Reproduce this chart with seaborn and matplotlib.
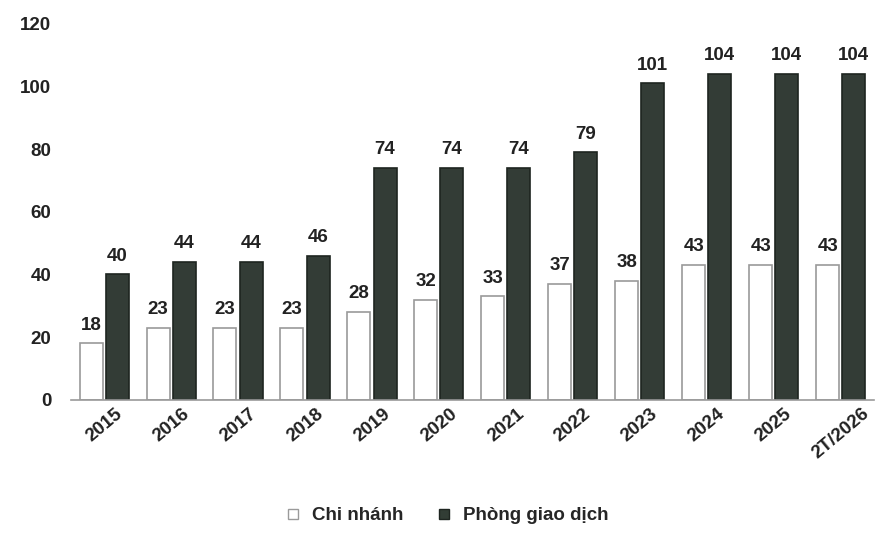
import pandas as pd
import matplotlib.pyplot as plt
import seaborn as sns
from matplotlib.lines import Line2D

# Data
years = ['2015', '2016', '2017', '2018', '2019', '2020', '2021', '2022',
         '2023', '2024', '2025', '2T/2026']
chi_nhanh = [18, 23, 23, 23, 28, 32, 33, 37, 38, 43, 43, 43]
phong_gd = [40, 44, 44, 46, 74, 74, 74, 79, 101, 104, 104, 104]
series_names = ['Chi nhánh', 'Phòng giao dịch']

df = pd.DataFrame({
    'Năm': years * 2,
    'Số lượng': chi_nhanh + phong_gd,
    'Loại': [series_names[0]] * len(years) + [series_names[1]] * len(years),
})

sns.set_style('white')
plt.rcParams['font.family'] = ['Liberation Sans', 'DejaVu Sans']
plt.rcParams['font.weight'] = 'bold'

fill_colors = {series_names[0]: '#ffffff', series_names[1]: '#323d35'}
edge_colors = {series_names[0]: '#9a9a9a', series_names[1]: '#1e2520'}

fig = plt.figure(figsize=(8.83, 5.33), dpi=100)
ax = fig.add_axes([0.08, 0.25, 0.91, 0.705])

sns.barplot(data=df, x='Năm', y='Số lượng', hue='Loại', palette=fill_colors,
            order=years, hue_order=series_names, width=0.78, gap=0.12,
            ax=ax, legend=False)

# Outline the bars and add value labels
for container, name in zip(ax.containers, series_names):
    for bar in container:
        bar.set_edgecolor(edge_colors[name])
        bar.set_linewidth(1.2)
    ax.bar_label(container, fmt='%d', padding=7, fontsize=13.5,
                 fontweight='bold', color='#222222')

ax.set_ylim(0, 120)
ax.set_yticks(range(0, 121, 20))
ax.set_xlim(-0.5, len(years) - 0.5)
ax.set_xlabel('')
ax.set_ylabel('')

for side in ['top', 'right', 'left']:
    ax.spines[side].set_visible(False)
ax.spines['bottom'].set_color('#9a9a9a')
ax.spines['bottom'].set_linewidth(1.2)

ax.tick_params(axis='y', length=0, labelsize=13.5, labelcolor='#222222', pad=14)
ax.tick_params(axis='x', length=0, labelsize=13.5, labelcolor='#222222', pad=4)
for lbl in ax.get_xticklabels():
    lbl.set_rotation(40)
    lbl.set_ha('center')
    lbl.set_va('top')
    lbl.set_fontweight('bold')
for lbl in ax.get_yticklabels():
    lbl.set_fontweight('bold')

handles = [
    Line2D([], [], marker='s', linestyle='', markersize=7,
           markerfacecolor=fill_colors[n], markeredgecolor=edge_colors[n])
    for n in series_names
]
fig.legend(handles, series_names, loc='lower center', ncol=2, frameon=False,
           bbox_to_anchor=(0.5, -0.015), handletextpad=0.0,
           columnspacing=1.2, prop={'weight': 'bold', 'size': 13.5})

plt.savefig('out.png', dpi=100)
